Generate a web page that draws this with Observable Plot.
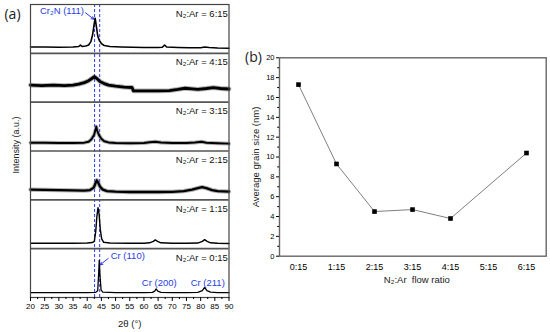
<!DOCTYPE html>
<html><head><meta charset="utf-8">
<script src="https://cdn.jsdelivr.net/npm/d3@7"></script>
<script src="https://cdn.jsdelivr.net/npm/@observablehq/plot@0.6"></script>
<style>
html,body{margin:0;padding:0;background:#fff;}
#wrap{position:relative;width:550px;height:332px;overflow:hidden;background:#fff;}
#a,#b{position:absolute;top:0;}
#a{left:0;} #b{left:235px;}
</style></head><body><div id="wrap"><div id="a"></div><div id="b"></div></div>
<script>
// ---------- (a) XRD patterns: [2θ (deg), relative intensity (% of panel)] ----------
const panelRatios = ["0:15", "1:15", "2:15", "3:15", "4:15", "6:15"]; // bottom -> top
const trace0_15 = [[20,10],[25,10],[30,10],[35,10],[40,10],[43,10.5],[43.7,14],[44.0,45],[44.25,76],[44.5,45],[44.9,15],[45.5,11],[50,10],[55,10],[60,10],[63,10.5],[63.8,13],[64.3,17.5],[64.9,13],[66,10.5],[70,10],[75,10],[79,10.5],[80.6,14],[81.4,20.5],[82.2,14],[83.5,11],[86,10],[90,10]];
const trace1_15 = [[20,11],[25,11],[30,11],[35,11],[40,11.5],[41.8,12.5],[42.5,15],[43,35],[43.4,65],[43.8,84],[44.2,70],[44.6,40],[45.1,20],[45.8,13],[48,11.5],[55,11],[60,11],[62,12],[63.3,15],[64,18],[64.8,15],[66,12],[70,11],[75,11],[79,11.5],[80.6,15],[81.4,18.5],[82.3,15],[83.5,12],[86,11],[90,10.5]];
const trace2_15 = [[20,21],[25,20.5],[30,20],[35,19.5],[39,19],[41,20],[42.3,25],[43,35],[43.4,40],[43.8,36],[44.5,27],[45.5,21],[47,18],[50,17],[55,16],[60,16],[65,16],[70,16.5],[74,18],[77,21],[79,24],[80.5,26],[82,24],[84,20],[86,18],[90,17]];
const trace3_15 = [[20,17],[25,17],[30,16.5],[35,16.5],[39,17],[40.5,19],[41.5,24],[42.4,33],[43.0,44],[43.2,50],[43.5,42],[44.2,32],[45,25],[46,20],[47.5,17.5],[50,16.5],[55,16],[60,16.5],[62,18],[64,19],[66,17.5],[70,16.5],[75,16.5],[78,17.5],[80.3,19],[82,17],[86,16],[90,15]];
const trace4_15 = [[20,35],[24,34],[28,35],[32,34],[35,35],[37,37],[39,40],[40.5,44],[41.5,48],[42.5,52],[43.3,49],[44.6,42],[46,38],[47.5,35],[50,33],[53,31],[55.8,30],[56.3,23],[60,23],[65,23],[69,23.5],[72,26],[74.5,28.5],[77,27],[79,26],[82,28],[84.5,30],[87,28],[90,27]];
const trace6_15 = [[20,13],[25,13],[30,12.5],[35,13],[37,14],[37.6,17],[38.2,14],[39.5,15],[40.5,17],[41.3,24],[41.9,38],[42.4,58],[42.8,72],[43.2,56],[43.7,36],[44.3,26],[45,20],[46,16],[48,14],[52,13],[56,12.5],[60,12],[65,12],[66.5,12.5],[67.3,17],[68,13],[72,12],[76,11.5],[80,11.5],[81.5,13],[83,12],[86,11],[90,10.5]];
const traces = [trace0_15, trace1_15, trace2_15, trace3_15, trace4_15, trace6_15];
const xTicksA = [20,25,30,35,40,45,50,55,60,65,70,75,80,85,90];
const refLines = [42.6, 44.4]; // dashed reference positions (2θ)
const peakNames = ["Cr\u2082N (111)", "Cr (110)", "Cr (200)", "Cr (211)"];

// ---------- (b) grain size ----------
const ratioCategories = ["0:15","1:15","2:15","3:15","4:15","5:15","6:15"];
const grainRatios = ["0:15","1:15","2:15","3:15","4:15","6:15"];
const grainSizes = [17.3, 9.3, 4.5, 4.7, 3.8, 10.4];
const yTicksB = [0,2,4,6,8,10,12,14,16,18,20];

const FONT = "'Liberation Sans', Arial, Helvetica, sans-serif";
const BLUE = "#2b3be6";
const widthsA = [1.3, 1.4, 2.3, 1.9, 2.8, 1.6];
const noisy = [false, false, true, true, true, false];

const lineMarks = [];
traces.forEach((t, i) => {
  const rows = t.map(([deg, v]) => ({deg, y: i * 100 + v}));
  if (noisy[i]) lineMarks.push(Plot.line(rows, {x: "deg", y: "y", stroke: "#555", strokeOpacity: 0.45, strokeWidth: widthsA[i] + 2}));
  lineMarks.push(Plot.line(rows, {x: "deg", y: "y", stroke: "#000", strokeWidth: widthsA[i]}));
});
const panelLabelRows = panelRatios.map((r, i) => ({text: `N\u2082:Ar = ${r}`, y: i * 100 + 81.6}));
const peakRows = [
  {text: peakNames[0], x: 31.1, y: 587},
  {text: peakNames[1], x: 54.3, y: 85.4},
  {text: peakNames[2], x: 65.4, y: 29.5},
  {text: peakNames[3], x: 82.5, y: 29.5}
];
const arrowRows = [
  {x1: 39.4, y1: 583, x2: 42.3, y2: 570},
  {x1: 47.4, y1: 80, x2: 44.6, y2: 67}
];

const plotA = Plot.plot({
  width: 240, height: 332,
  marginLeft: 30, marginRight: 11.5, marginTop: 4, marginBottom: 35,
  style: {fontFamily: FONT, fontSize: "8px", background: "transparent"},
  x: {domain: [20, 90], axis: null},
  y: {domain: [0, 600], axis: null},
  marks: [
    Plot.ruleX(refLines, {stroke: BLUE, strokeWidth: 1, strokeDasharray: "3,2"}),
    ...lineMarks,
    Plot.ruleY([100, 200, 300, 400, 500], {stroke: "#555", strokeWidth: 1.6}),
    Plot.frame({stroke: "#444", strokeWidth: 1.2}),
    Plot.axisX({ticks: xTicksA, tickSize: 4, tickPadding: 2, fontSize: 8, label: null}),
    Plot.axisX({ticks: d3.range(22.5, 90, 5), tickSize: 2, tickFormat: () => "", label: null}),
    Plot.text(panelLabelRows, {x: 89.6, y: "y", text: "text", textAnchor: "end", fontSize: 9.5, fill: "#111"}),
    Plot.text(peakRows, {x: "x", y: "y", text: "text", fontSize: 9.5, fill: BLUE}),
    Plot.arrow(arrowRows, {x1: "x1", y1: "y1", x2: "x2", y2: "y2", stroke: BLUE, strokeWidth: 1, headLength: 4}),
    Plot.text(["(a)"], {frameAnchor: "top-left", textAnchor: "middle", lineAnchor: "middle", dx: -18, dy: 10, fontSize: 14, fontFamily: "'Open Sans', sans-serif", fill: "#222"}),
    Plot.text(["Intensity (a.u.)"], {frameAnchor: "left", textAnchor: "middle", lineAnchor: "middle", rotate: -90, dx: -14, dy: -6, fontSize: 9, fill: "#222"}),
    Plot.text(["2\u03b8 (\u00b0)"], {frameAnchor: "bottom", lineAnchor: "middle", dy: 26, fontSize: 9.5, fill: "#222"})
  ]
});
document.getElementById("a").appendChild(plotA);

const grainRows = grainRatios.map((r, i) => ({ratio: r, size: grainSizes[i]}));
const plotB = Plot.plot({
  width: 315, height: 332,
  marginLeft: 44, marginRight: 4.3, marginTop: 57.3, marginBottom: 76.3,
  style: {fontFamily: FONT, fontSize: "8px", background: "transparent"},
  x: {type: "point", domain: ratioCategories, padding: 0.5, axis: null},
  y: {domain: [0, 20], axis: null},
  marks: [
    Plot.frame({stroke: "#666", strokeWidth: 1.4}),
    Plot.axisY({ticks: yTicksB, tickSize: 3, tickPadding: 2, fontSize: 7.5, label: null}),
    Plot.axisY({ticks: d3.range(1, 20, 2), tickSize: 1.8, tickFormat: () => "", label: null}),
    Plot.axisX({tickSize: 0, tickPadding: 7, fontSize: 9, label: null}),
    Plot.line(grainRows, {x: "ratio", y: "size", stroke: "#808080", strokeWidth: 1}),
    Plot.dot(grainRows, {x: "ratio", y: "size", symbol: "square", r: 2.6, fill: "#000", stroke: null}),
    Plot.text(["(b)"], {frameAnchor: "top-left", textAnchor: "middle", lineAnchor: "middle", dx: -26, dy: 0, fontSize: 14, fontFamily: "'Open Sans', sans-serif", fill: "#222"}),
    Plot.text(["Average grain size (nm)"], {frameAnchor: "left", textAnchor: "middle", lineAnchor: "middle", rotate: -90, dx: -24, fontSize: 9.5, fill: "#222"}),
    Plot.text(["N\u2082:Ar  flow ratio"], {frameAnchor: "bottom", lineAnchor: "middle", dx: 4, dy: 24, fontSize: 9.5, fill: "#222"})
  ]
});
document.getElementById("b").appendChild(plotB);
</script></body></html>
